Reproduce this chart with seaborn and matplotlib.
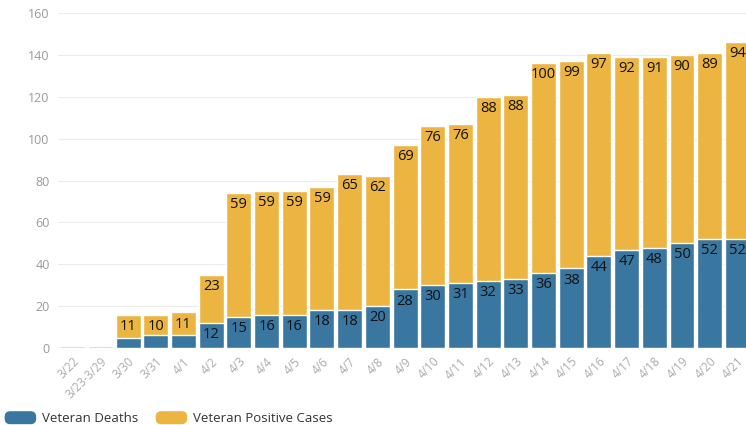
import matplotlib
matplotlib.use("Agg")
import matplotlib.pyplot as plt
import matplotlib.patches as mpatches
from matplotlib.legend_handler import HandlerPatch
import seaborn as sns
import pandas as pd

dates = ["3/22", "3/23-3/29", "3/30", "3/31", "4/1", "4/2", "4/3", "4/4", "4/5", "4/6",
         "4/7", "4/8", "4/9", "4/10", "4/11", "4/12", "4/13", "4/14", "4/15", "4/16",
         "4/17", "4/18", "4/19", "4/20", "4/21"]
deaths = [0, 0, 5, 6, 6, 12, 15, 16, 16, 18, 18, 20, 28, 30, 31, 32, 33, 36, 38, 44,
          47, 48, 50, 52, 52]
cases = [1, 1, 11, 10, 11, 23, 59, 59, 59, 59, 65, 62, 69, 76, 76, 88, 88, 100, 99, 97,
         92, 91, 90, 89, 94]
yticks = [0, 20, 40, 60, 80, 100, 120, 140, 160]

BLUE = "#3a77a0"
ORANGE = "#ecb541"

df = pd.DataFrame({"date": dates, "deaths": deaths, "cases": cases})
df["total"] = df["deaths"] + df["cases"]

sns.set_style("white")
plt.rcParams["font.family"] = ["Open Sans", "DejaVu Sans"]

fig = plt.figure(figsize=(7.46, 4.25), dpi=100)
ax = fig.add_axes([58 / 746, 77 / 425, 1 - 58 / 746, 335 / 425])

sns.barplot(data=df, x="date", y="total", order=dates, color=ORANGE, saturation=1,
            width=0.9, edgecolor="white", linewidth=1, ax=ax, zorder=2)
sns.barplot(data=df, x="date", y="deaths", order=dates, color=BLUE, saturation=1,
            width=0.9, edgecolor="white", linewidth=1, ax=ax, zorder=3)

for i, (d, c) in enumerate(zip(deaths, cases)):
    if d >= 10:
        ax.annotate(str(d), (i, d), xytext=(0, -3), textcoords="offset points",
                    ha="center", va="top", fontsize=10.5, color="#111111", zorder=5,
                    annotation_clip=False)
    if c >= 10:
        ax.annotate(str(c), (i, d + c), xytext=(0, -3), textcoords="offset points",
                    ha="center", va="top", fontsize=10.5, color="#111111", zorder=5,
                    annotation_clip=False)

ax.set_ylim(0, 160)
ax.set_xlim(-0.53, 24.31)
ax.set_yticks(yticks)
ax.set_yticklabels([str(t) for t in yticks], fontsize=9, color="#999999")
ax.yaxis.grid(True, color="#ececec", linewidth=0.8, zorder=0)
ax.set_axisbelow(True)
ax.tick_params(axis="y", length=0, pad=6)
ax.tick_params(axis="x", length=3, color="#dddddd", pad=2)
ax.set_xticks(range(len(dates)))
ax.set_xticklabels(dates, rotation=45, ha="right", rotation_mode="anchor",
                   fontsize=8.5, color="#aaaaaa")
ax.set_xlabel("")
ax.set_ylabel("")
for s in ax.spines.values():
    s.set_visible(False)


class RoundHandler(HandlerPatch):
    def create_artists(self, legend, orig_handle, xdescent, ydescent, width, height,
                       fontsize, trans):
        p = mpatches.FancyBboxPatch((-xdescent + 1, -ydescent + 0.5), width - 2, height - 1,
                                    boxstyle="round,pad=0,rounding_size=4",
                                    facecolor=orig_handle.get_facecolor(),
                                    edgecolor="none", transform=trans)
        return [p]


handles = [mpatches.Patch(facecolor=BLUE, edgecolor="none", label="Veteran Deaths"),
           mpatches.Patch(facecolor=ORANGE, edgecolor="none", label="Veteran Positive Cases")]
fig.legend(handles=handles, loc="lower left", bbox_to_anchor=(-0.008, -0.022), ncol=2,
           frameon=False, fontsize=9.5, handlelength=2.6, handleheight=1.3,
           handletextpad=0.35, columnspacing=1.2, labelcolor="#333333",
           borderaxespad=0.3, handler_map={mpatches.Patch: RoundHandler()})

fig.savefig("out.png", dpi=100)
